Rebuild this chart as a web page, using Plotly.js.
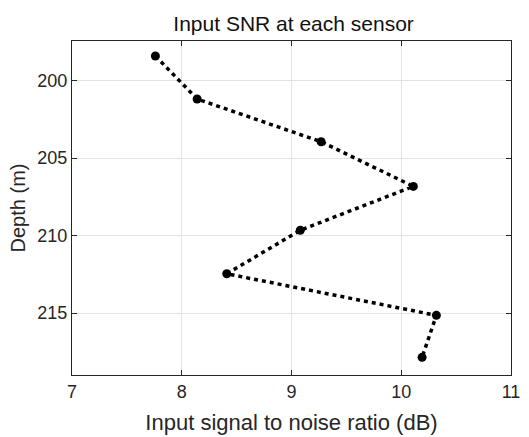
<!DOCTYPE html>
<html>
<head>
<meta charset="utf-8">
<script src="https://cdn.plot.ly/plotly-3.0.1.min.js"></script>
<style>html,body{margin:0;padding:0;background:#fff;}#chart{width:529px;height:437px;}</style>
</head>
<body>
<div id="chart"></div>
<script>
var snrDb = [7.76, 8.14, 9.27, 10.11, 9.08, 8.41, 10.32, 10.19];
var depthM = [198.42, 201.19, 203.95, 206.83, 209.66, 212.47, 215.15, 217.86];
var xTicks = [7, 8, 9, 10, 11];
var yTicks = [200, 205, 210, 215];

var FONT = 'Liberation Sans, Arial, sans-serif';
var INK = '#262626';

var trace = {
  x: snrDb,
  y: depthM,
  type: 'scatter',
  mode: 'lines+markers',
  line: {color: '#000000', width: 3.5, dash: '4px,4px'},
  marker: {color: '#000000', size: 9, symbol: 'circle'},
  hoverinfo: 'skip'
};

var axisCommon = {
  showline: true, linecolor: INK, linewidth: 1, mirror: 'ticks',
  ticks: 'inside', ticklen: 5, tickwidth: 1, tickcolor: INK,
  showgrid: true, gridcolor: '#e3e3e3', gridwidth: 1,
  zeroline: false, automargin: false,
  tickfont: {family: FONT, size: 18, color: INK}
};

var layout = {
  width: 529, height: 437,
  margin: {l: 72, r: 18, t: 41, b: 62},
  paper_bgcolor: '#ffffff', plot_bgcolor: '#ffffff',
  showlegend: false,
  title: {text: 'Input SNR at each sensor', font: {family: FONT, size: 21, color: '#111111'},
          x: 0.555, xanchor: 'center', y: 0.945, yanchor: 'middle'},
  xaxis: Object.assign({}, axisCommon, {
    range: [7, 11], tickvals: xTicks, ticktext: xTicks.map(String),
    title: {text: 'Input signal to noise ratio (dB)', font: {family: FONT, size: 22, color: INK}, standoff: 14}
  }),
  yaxis: Object.assign({}, axisCommon, {
    range: [219, 197.45], tickvals: yTicks, ticktext: yTicks.map(String),
    title: {text: 'Depth (m)', font: {family: FONT, size: 20, color: INK}, standoff: 6}
  })
};

Plotly.newPlot('chart', [trace], layout, {staticPlot: true, displayModeBar: false});
</script>
</body>
</html>
